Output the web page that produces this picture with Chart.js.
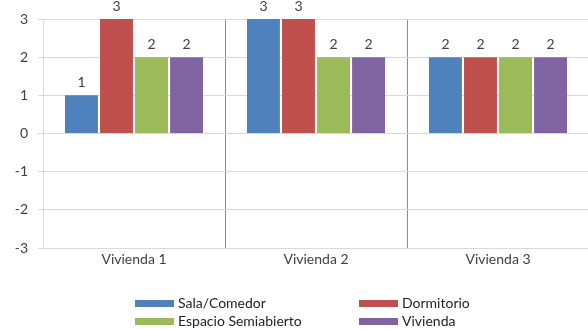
<!DOCTYPE html>
<html>
<head>
<meta charset="utf-8">
<script src="https://cdn.jsdelivr.net/npm/chart.js@4/dist/chart.umd.min.js"></script>
<style>
  html, body { margin: 0; padding: 0; background: #fff; overflow: hidden; }
  #wrap { position: relative; width: 600px; height: 329px; }
</style>
</head>
<body>
<div id="wrap"><canvas id="c"></canvas></div>
<script>
// Categories and series values
const categories = ['Vivienda 1', 'Vivienda 2', 'Vivienda 3'];
const salaComedor = [1, 3, 2];
const dormitorio = [3, 3, 2];
const espacioSemiabierto = [2, 2, 2];
const vivienda = [2, 2, 2];
const seriesNames = ['Sala/Comedor', 'Dormitorio', 'Espacio Semiabierto', 'Vivienda'];
const yTicks = [-3, -2, -1, 0, 1, 2, 3];

const colors = ['#4F81BD', '#C0504D', '#9BBB59', '#8064A2'];
const FONT = 'Lato, "Open Sans", sans-serif';

// Value labels above each bar
const valueLabels = {
  id: 'valueLabels',
  afterDatasetsDraw(chart) {
    const ctx = chart.ctx;
    ctx.save();
    ctx.font = '14px ' + FONT;
    ctx.fillStyle = '#404040';
    ctx.textAlign = 'center';
    ctx.textBaseline = 'middle';
    chart.data.datasets.forEach((ds, i) => {
      chart.getDatasetMeta(i).data.forEach((el, j) => {
        ctx.fillText(String(ds.data[j]), el.x, el.y - 13);
      });
    });
    ctx.restore();
  }
};

// Two-column legend under the plot
const gridLegend = {
  id: 'gridLegend',
  afterDraw(chart) {
    const ctx = chart.ctx;
    ctx.save();
    ctx.font = '14px ' + FONT;
    ctx.textBaseline = 'middle';
    const cols = [135, 359];
    const rows = [303, 321];
    chart.data.datasets.forEach((ds, i) => {
      const x = cols[i % 2], y = rows[Math.floor(i / 2)];
      ctx.fillStyle = ds.backgroundColor;
      ctx.fillRect(x, y - 3, 39, 7);
      ctx.fillStyle = '#222';
      ctx.fillText(ds.label, x + 43, y);
    });
    ctx.restore();
  }
};

const seriesData = [salaComedor, dormitorio, espacioSemiabierto, vivienda];

new Chart(document.getElementById('c'), {
  type: 'bar',
  data: {
    labels: categories,
    datasets: seriesData.map((d, i) => ({
      label: seriesNames[i],
      data: d,
      backgroundColor: colors[i],
      borderWidth: 0,
      categoryPercentage: 0.77,
      barPercentage: 0.94
    }))
  },
  options: {
    responsive: true,
    maintainAspectRatio: false,
    animation: false,
    layout: { padding: { top: 19, right: 11, left: 0, bottom: 0 } },
    plugins: { legend: { display: false }, tooltip: { enabled: false } },
    scales: {
      x: {
        grid: {
          offset: true,
          drawTicks: false,
          color: (c) => c.index === 0 ? '#d9d9d9' : '#8c8c8c',
          lineWidth: 1
        },
        border: { display: true, color: '#d9d9d9' },
        ticks: { color: '#404040', font: { family: FONT, size: 14 }, padding: 3 },
        afterFit: (s) => { s.height = 81; }
      },
      y: {
        min: -3, max: 3,
        afterBuildTicks: (s) => { s.ticks = yTicks.map(v => ({ value: v })); },
        grid: { color: '#d9d9d9', tickLength: 5, drawTicks: true },
        border: { display: true, color: '#d9d9d9' },
        ticks: { color: '#404040', font: { family: FONT, size: 14 }, padding: 10 },
        afterFit: (s) => { s.width = 43; }
      }
    }
  },
  plugins: [valueLabels, gridLegend]
});
</script>
</body>
</html>
